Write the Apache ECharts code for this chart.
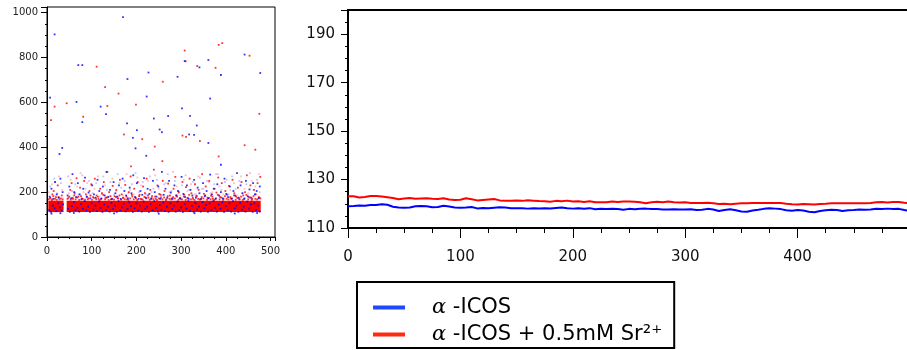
<!DOCTYPE html>
<html>
<head>
<meta charset="utf-8">
<script src="https://cdn.jsdelivr.net/npm/echarts@6/dist/echarts.min.js"></script>
<style>
html,body{margin:0;padding:0;background:#fff;}
#main{width:907px;height:350px;}
</style>
</head>
<body>
<div id="main"></div>
<script>
var myChart = echarts.init(document.getElementById('main'));

// left panel: dense red band (x segments, y range)
var bandSegments = [[3, 37], [44, 478]];
var bandRange = [111, 162];

// blue dots inside / under the band
var blueBand = [[5,120],[9,112],[13,140],[17,128],[21,115],[25,150],[29,132],[33,118],[36,145],[47,125],[51,112],[56,138],[60,155],[64,120],[68,130],[72,113],[76,148],[80,126],[84,160],[88,118],[92,135],[96,112],[100,150],[104,122],[108,140],[112,115],[116,158],[120,130],[124,112],[128,145],[132,120],[136,135],[140,113],[144,152],[148,125],[152,140],[156,112],[160,160],[164,118],[168,132],[172,148],[176,114],[180,125],[184,155],[188,138],[192,112],[196,128],[200,150],[204,118],[208,140],[212,113],[216,158],[220,126],[224,135],[228,112],[232,148],[236,120],[240,160],[244,130],[248,113],[252,142],[256,122],[260,155],[264,115],[268,135],[272,112],[276,150],[280,125],[284,140],[288,113],[292,158],[296,120],[300,132],[304,112],[308,148],[312,126],[316,160],[320,115],[324,138],[328,112],[332,152],[336,122],[340,135],[344,113],[348,156],[352,128],[356,142],[360,112],[364,150],[368,120],[372,160],[376,130],[380,113],[384,145],[388,125],[392,155],[396,112],[400,138],[404,120],[408,150],[412,113],[416,160],[420,128],[424,140],[428,112],[432,152],[436,122],[440,135],[444,113],[448,158],[452,126],[456,145],[460,112],[464,150],[468,120],[472,140],[476,113],
  [10,104],[30,106],[60,107],[150,105],[250,104],[330,106],[420,105],[470,107]];

// ragged top edge of the band
var redEdge = [[4,168],[7,175],[11,165],[14,182],[18,170],[22,166],[26,178],[31,172],[35,168],[46,170],[50,180],[53,166],[57,174],[61,186],[64,168],[68,176],[72,165],[76,182],[80,170],[85,167],[89,178],[93,172],[97,185],[101,166],[105,174],[110,168],[114,180],[118,165],[122,172],[126,188],[130,168],[134,176],[138,165],[142,182],[146,170],[150,167],[154,178],[158,172],[162,185],[166,166],[170,174],[174,168],[178,180],[182,165],[186,172],[190,188],[194,168],[198,176],[202,165],[206,182],[210,170],[214,167],[218,178],[222,172],[226,185],[230,166],[234,174],[238,168],[242,180],[246,165],[250,172],[254,188],[258,168],[262,176],[266,165],[270,182],[274,170],[278,167],[282,178],[286,172],[290,185],[294,166],[298,174],[302,168],[306,180],[310,165],[314,172],[318,188],[322,168],[326,176],[330,165],[334,182],[338,170],[342,167],[346,178],[350,172],[354,185],[358,166],[362,174],[366,168],[370,180],[374,165],[378,172],[382,188],[386,168],[390,176],[394,165],[398,182],[402,170],[406,167],[410,178],[414,172],[418,185],[422,166],[426,174],[430,168],[434,180],[438,165],[442,172],[446,188],[450,168],[454,176],[458,165],[462,182],[466,170],[470,167],[474,178],[477,172]];

// scattered dots above the band
var redMid = [[8,172],[12,190],[15,205],[20,178],[24,230],[28,168],[33,185],[48,175],[52,210],[55,240],[58,170],[62,195],[66,262],[70,180],[74,220],[78,172],[83,250],[87,190],[91,168],[95,205],[99,235],[103,178],[107,260],[111,185],[115,170],[119,215],[123,195],[127,245],[131,175],[135,290],[139,200],[143,168],[147,228],[151,182],[155,210],[159,172],[163,255],[167,190],[171,175],[175,232],[179,168],[183,200],[187,270],[191,180],[195,215],[199,172],[203,245],[207,188],[211,168],[215,225],[219,195],[223,260],[227,175],[231,210],[235,182],[239,300],[243,170],[247,230],[251,192],[255,176],[259,250],[263,205],[267,168],[271,238],[275,185],[279,172],[283,215],[287,268],[291,180],[295,200],[299,170],[303,245],[307,188],[311,222],[315,175],[319,260],[323,195],[327,170],[331,235],[335,182],[339,210],[343,168],[347,280],[351,192],[355,225],[359,175],[363,250],[367,185],[371,170],[375,215],[379,198],[383,265],[387,178],[391,240],[395,170],[399,205],[403,188],[407,228],[411,172],[415,255],[419,195],[423,180],[427,220],[431,168],[435,245],[439,185],[443,200],[447,275],[451,178],[455,230],[459,170],[463,210],[467,190],[471,240],[475,175],[477,268]];
var blueMid = [[6,180],[10,215],[14,170],[18,245],[22,190],[26,175],[30,260],[35,200],[46,185],[50,225],[54,172],[57,280],[61,200],[65,178],[69,240],[73,190],[77,168],[81,215],[85,265],[89,180],[93,198],[97,172],[101,230],[105,190],[109,175],[113,255],[117,205],[121,170],[125,225],[129,185],[133,290],[137,178],[141,210],[145,170],[149,245],[153,195],[157,180],[161,230],[165,170],[169,260],[173,205],[177,185],[181,172],[185,220],[189,195],[193,275],[197,178],[201,240],[205,170],[209,205],[213,188],[217,262],[221,175],[225,215],[229,192],[233,170],[237,250],[241,200],[245,180],[249,225],[253,170],[257,290],[261,188],[265,215],[269,175],[273,250],[277,198],[281,170],[285,230],[289,185],[293,205],[297,172],[301,268],[305,192],[309,178],[313,230],[317,170],[321,210],[325,185],[329,255],[333,175],[337,220],[341,195],[345,170],[349,240],[353,182],[357,205],[361,172],[365,278],[369,190],[373,215],[377,170],[381,235],[385,185],[389,200],[393,172],[397,260],[401,192],[405,178],[409,225],[413,170],[417,205],[421,185],[425,285],[429,175],[433,230],[437,195],[441,170],[445,250],[449,182],[453,212],[457,175],[461,240],[465,190],[469,205],[473,172],[476,225]];
var lightRed = [[4,200],[11,235],[19,185],[27,270],[34,210],[49,195],[53,255],[59,180],[67,225],[75,285],[82,200],[90,240],[98,185],[106,215],[114,270],[122,190],[130,230],[138,180],[146,260],[154,205],[162,240],[170,185],[178,280],[186,210],[194,190],[202,265],[210,230],[218,180],[226,250],[234,200],[242,275],[250,215],[258,185],[266,240],[274,200],[282,290],[290,225],[298,185],[306,255],[314,205],[322,235],[330,190],[338,270],[346,215],[354,185],[362,245],[370,200],[378,280],[386,225],[394,190],[402,255],[410,210],[418,240],[426,185],[434,270],[442,215],[450,195],[458,250],[466,225],[474,280]];
var lightBlue = [[7,225],[16,260],[23,195],[31,240],[47,270],[56,205],[63,235],[71,190],[79,275],[86,215],[94,250],[102,195],[110,240],[118,180],[126,270],[134,210],[142,245],[150,190],[158,280],[166,220],[174,250],[182,195],[190,235],[198,285],[206,200],[214,245],[222,190],[230,270],[238,215],[246,255],[254,190],[262,235],[270,280],[278,205],[286,250],[294,195],[302,230],[310,275],[318,210],[326,245],[334,190],[342,265],[350,215],[358,250],[366,195],[374,235],[382,280],[390,210],[398,245],[406,190],[414,270],[422,215],[430,250],[438,195],[446,235],[454,285],[462,210],[470,255],[476,200]];

// sparse high outliers
var redHigh = [[9,521],[17,581],[44,596],[111,759],[130,668],[135,584],[81,536],[160,639],[172,457],[199,590],[213,436],[259,692],[241,403],[308,831],[310,783],[311,446],[303,452],[336,762],[342,428],[377,754],[384,856],[392,864],[453,808],[442,409],[475,549],[466,389],[384,359],[188,315],[258,338]];
var blueHigh = [[170,980],[17,903],[7,621],[34,397],[28,370],[70,766],[66,602],[79,766],[79,512],[180,704],[179,506],[227,733],[223,626],[239,528],[252,479],[257,467],[201,476],[192,442],[198,395],[292,714],[271,539],[308,784],[302,573],[320,540],[329,455],[335,497],[341,756],[361,789],[365,617],[361,419],[389,722],[442,813],[477,731],[132,548],[120,581],[389,322],[318,457],[222,362]];

// right panel lines
var lineX = [0,5,10,15,20,25,30,35,40,45,50,55,60,65,70,75,80,85,90,95,100,105,110,115,120,125,130,135,140,145,150,155,160,165,170,175,180,185,190,195,200,205,210,215,220,225,230,235,240,245,250,255,260,265,270,275,280,285,290,295,300,305,310,315,320,325,330,335,340,345,350,355,360,365,370,375,380,385,390,395,400,405,410,415,420,425,430,435,440,445,450,455,460,465,470,475,480,485,490,495,500];
var redLine = [123.1,123.1,122.6,122.8,123.2,123.2,123.0,122.7,122.4,121.9,122.2,122.4,122.1,122.2,122.3,122.1,122.0,122.3,121.8,121.6,121.7,122.3,121.9,121.4,121.6,121.8,122.0,121.4,121.3,121.2,121.4,121.2,121.5,121.3,121.1,121.0,120.8,121.2,121.0,121.3,120.9,121.0,120.7,121.0,120.6,120.6,120.6,120.9,120.7,120.9,120.9,120.8,120.6,120.2,120.6,120.8,120.6,120.9,120.6,120.5,120.6,120.3,120.3,120.3,120.4,120.2,119.9,120.0,119.8,120.0,120.2,120.2,120.3,120.3,120.3,120.3,120.3,120.3,120.0,119.8,119.7,119.9,119.8,119.7,119.9,120.0,120.2,120.2,120.2,120.2,120.2,120.2,120.2,120.3,120.6,120.7,120.5,120.7,120.7,120.4,120.3];
var blueLine = [119.0,119.1,119.3,119.2,119.5,119.5,119.8,119.6,118.8,118.5,118.4,118.5,119.0,119.1,119.0,118.6,118.7,119.2,118.9,118.5,118.4,118.5,118.7,118.1,118.3,118.2,118.4,118.6,118.5,118.2,118.2,118.2,118.0,118.2,118.1,118.2,118.1,118.3,118.5,118.2,118.0,118.2,117.9,118.2,117.7,117.9,117.8,117.9,117.8,117.5,117.9,117.7,117.9,118.0,117.8,117.8,117.6,117.6,117.7,117.6,117.6,117.7,117.4,117.5,117.9,117.6,117.0,117.4,117.7,117.3,116.8,116.7,117.2,117.5,117.9,118.2,118.0,117.8,117.3,117.1,117.4,117.2,116.7,116.5,117.0,117.3,117.5,117.4,117.0,117.3,117.4,117.6,117.5,117.6,117.9,117.8,118.0,117.8,117.9,117.4,117.0];

var names = ['α-ICOS', 'α-ICOS + 0.5mM Sr²⁺'];

function pairs(xs, ys) {
    return xs.map(function (x, i) { return [x, ys[i]]; });
}
var bandAreas = bandSegments.map(function (s) {
    return [{coord: [s[0], bandRange[0]]}, {coord: [s[1], bandRange[1]]}];
});

var axisFont = 'DejaVu Sans';
var dot = {type: 'scatter', xAxisIndex: 0, yAxisIndex: 0, symbol: 'rect', symbolSize: 1.8, silent: true};

option = {
    animation: false,
    backgroundColor: '#fff',
    grid: [
        {left: 47, top: 7, width: 228, height: 230, show: true, borderColor: '#000', borderWidth: 1, backgroundColor: '#fff', outerBoundsMode: 'none'},
        {left: 348, top: 10, width: 562, height: 218, show: true, borderColor: '#000', borderWidth: 2, backgroundColor: '#fff', outerBoundsMode: 'none'}
    ],
    xAxis: [{
        gridIndex: 0, type: 'value', min: 0, max: 510, interval: 100,
        axisLine: {lineStyle: {color: '#000', width: 1}},
        axisTick: {length: 4, lineStyle: {color: '#000'}},
        minorTick: {show: true, splitNumber: 4, length: 2, lineStyle: {color: '#000'}},
        splitLine: {show: false},
        axisLabel: {margin: 9, fontSize: 10, fontFamily: axisFont, color: '#222',
            formatter: function (v) { return v % 100 === 0 ? v : ''; }}
    }, {
        gridIndex: 1, type: 'value', min: 0, max: 500, interval: 100,
        axisLine: {lineStyle: {color: '#000', width: 2}},
        axisTick: {length: 10, lineStyle: {color: '#000'}},
        minorTick: {show: true, splitNumber: 4, length: 5, lineStyle: {color: '#000'}},
        splitLine: {show: false},
        axisLabel: {margin: 22, fontSize: 15, fontFamily: axisFont, color: '#111',
            formatter: function (v) { return v < 500 ? v : ''; }}
    }],
    yAxis: [{
        gridIndex: 0, type: 'value', min: 0, max: 1025, interval: 200,
        axisLine: {lineStyle: {color: '#000', width: 1}},
        axisTick: {length: 6, lineStyle: {color: '#000'}},
        minorTick: {show: true, splitNumber: 4, length: 2, lineStyle: {color: '#000'}},
        splitLine: {show: false},
        axisLabel: {margin: 9, fontSize: 10, fontFamily: axisFont, color: '#222',
            formatter: function (v) { return v % 200 === 0 ? v : ''; }}
    }, {
        gridIndex: 1, type: 'value', min: 110, max: 200, interval: 20,
        axisLine: {lineStyle: {color: '#000', width: 2}},
        axisTick: {length: 7, lineStyle: {color: '#000'}},
        minorTick: {show: true, splitNumber: 4, length: 3, lineStyle: {color: '#000'}},
        splitLine: {show: false},
        axisLabel: {margin: 13, fontSize: 15, fontFamily: axisFont, color: '#111',
            formatter: function (v) { return (v - 110) % 20 === 0 && v < 200 ? v : ''; }}
    }],
    legend: {
        left: 357, top: 282, orient: 'vertical',
        borderColor: '#000', borderWidth: 2, padding: [15, 12, 3, 16],
        itemGap: 6, itemWidth: 32, itemHeight: 4, icon: 'rect',
        data: [
            {name: names[0], itemStyle: {color: '#1f48ff'}},
            {name: names[1], itemStyle: {color: '#ff2a10'}}
        ],
        formatter: function (name) { return name.replace('α', '{a|α} '); },
        textStyle: {
            fontFamily: 'DejaVu Sans', fontSize: 21, color: '#000', padding: [0, 0, 0, 22],
            rich: {a: {fontFamily: 'DejaVu Serif', fontStyle: 'italic', fontSize: 21, color: '#000'}}
        }
    },
    series: [
        Object.assign({}, dot, {name: 'band', data: [], markArea: {silent: true, itemStyle: {color: '#ff0000'}, data: bandAreas}}),
        Object.assign({}, dot, {name: 'lightBlue', data: lightBlue, itemStyle: {color: 'rgba(70,70,255,0.4)'}}),
        Object.assign({}, dot, {name: 'lightRed', data: lightRed, itemStyle: {color: 'rgba(255,60,60,0.4)'}}),
        Object.assign({}, dot, {name: 'redDots', data: redEdge.concat(redMid, redHigh), itemStyle: {color: '#ff0000'}}),
        Object.assign({}, dot, {name: 'blueDots', data: blueMid.concat(blueHigh, blueBand), itemStyle: {color: '#0000ff'}}),
        {
            name: names[1], type: 'line', xAxisIndex: 1, yAxisIndex: 1,
            data: pairs(lineX, redLine), showSymbol: false, symbol: 'none',
            itemStyle: {color: '#ff0000'}, lineStyle: {color: '#ff0000', width: 2}
        },
        {
            name: names[0], type: 'line', xAxisIndex: 1, yAxisIndex: 1,
            data: pairs(lineX, blueLine), showSymbol: false, symbol: 'none',
            itemStyle: {color: '#0000ff'}, lineStyle: {color: '#0000ff', width: 2}
        }
    ]
};

myChart.setOption(option);
</script>
</body>
</html>
